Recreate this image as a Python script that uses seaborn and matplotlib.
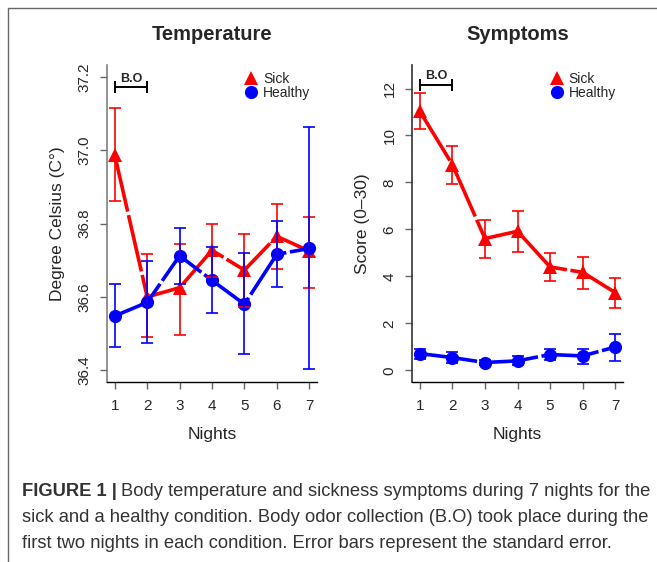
import matplotlib
matplotlib.use("Agg")
import matplotlib.pyplot as plt
import pandas as pd
import seaborn as sns
from matplotlib.lines import Line2D
from matplotlib.transforms import blended_transform_factory

# Data (means and standard-error bar ends)
nights = [1, 2, 3, 4, 5, 6, 7]

temp_sick = [36.986, 36.600, 36.625, 36.727, 36.673, 36.765, 36.725]
temp_sick_lo = [36.861, 36.491, 36.495, 36.654, 36.573, 36.675, 36.625]
temp_sick_hi = [37.114, 36.718, 36.745, 36.800, 36.771, 36.852, 36.818]

temp_healthy = [36.548, 36.585, 36.712, 36.645, 36.580, 36.716, 36.732]
temp_healthy_lo = [36.464, 36.475, 36.636, 36.555, 36.444, 36.627, 36.403]
temp_healthy_hi = [36.635, 36.698, 36.788, 36.736, 36.720, 36.806, 37.062]

symp_sick = [11.03, 8.76, 5.61, 5.92, 4.40, 4.17, 3.31]
symp_sick_lo = [10.27, 7.95, 4.76, 5.04, 3.79, 3.48, 2.67]
symp_sick_hi = [11.79, 9.54, 6.42, 6.77, 5.00, 4.83, 3.93]

symp_healthy = [0.71, 0.54, 0.33, 0.40, 0.67, 0.61, 0.99]
symp_healthy_lo = [0.50, 0.31, 0.21, 0.21, 0.43, 0.28, 0.40]
symp_healthy_hi = [0.92, 0.78, 0.43, 0.60, 0.89, 0.92, 1.56]

temp_ticks = ["36.4", "36.6", "36.8", "37.0", "37.2"]
symp_ticks = ["0", "2", "4", "6", "8", "10", "12"]

groups = ["Sick", "Healthy"]
colors = {"Sick": "#FF0000", "Healthy": "#0000FF"}
markers = {"Sick": "^", "Healthy": "o"}

sns.set_style("ticks")
plt.rcParams["font.family"] = ["Liberation Sans", "DejaVu Sans"]

fig = plt.figure(figsize=(6.57, 5.62), dpi=100)
ax_t = fig.add_axes([0.1629, 0.3203, 0.3196, 0.564])
ax_s = fig.add_axes([0.6271, 0.3203, 0.3212, 0.564])


def draw_panel(ax, series, ylim, yticks, ylabel, title, bo_y, spine_col):
    for g in groups:
        mean, lo, hi = series[g]
        df = pd.DataFrame({"night": nights, "value": mean})
        sns.lineplot(data=df, x="night", y="value", ax=ax, color=colors[g],
                     marker=markers[g], markersize=10 if g == "Sick" else 9.5,
                     markeredgewidth=0, linewidth=2.6, dashes=(16, 1.0),
                     legend=False, zorder=3)
        yerr = [[m - l for m, l in zip(mean, lo)], [h - m for m, h in zip(mean, hi)]]
        ax.errorbar(nights, mean, yerr=yerr, fmt="none", ecolor=colors[g],
                    elinewidth=1.2, capsize=4.5, capthick=1.2, zorder=4)

    ax.set_xlim(0.76, 7.24)
    ax.set_ylim(*ylim)
    ax.set_xticks(nights)
    ax.set_yticks([float(t) for t in yticks])
    ax.set_yticklabels(yticks, rotation=90, va="center")
    ax.tick_params(axis="both", labelsize=11, length=5, width=1, color="#666666", pad=6)
    ax.tick_params(axis="x", pad=7)
    sns.despine(ax=ax)
    ax.spines["left"].set_color(spine_col)
    ax.spines["left"].set_linewidth(1.2)
    ax.spines["bottom"].set_linewidth(1)
    ax.spines["bottom"].set_color("black")
    ax.set_xlabel("Nights", fontsize=12.5, labelpad=10)
    ax.set_ylabel(ylabel, fontsize=12.5, labelpad=9)
    ax.set_title(title, fontsize=14.5, fontweight="bold", pad=18)

    # B.O bracket over nights 1-2
    tr = blended_transform_factory(ax.transData, ax.transAxes)
    ax.plot([1, 2], [bo_y, bo_y], color="black", lw=1.4, transform=tr, clip_on=False)
    ax.plot([1, 2], [bo_y, bo_y], color="black", lw=0, marker="|", ms=8, mew=1.4,
            transform=tr, clip_on=False)
    ax.text(1.5, bo_y + 0.008, "B.O", transform=tr, ha="center", va="bottom",
            fontsize=9, fontweight="bold")

    handles = [Line2D([], [], color=colors[g], marker=markers[g], lw=0,
                      markersize=10 if g == "Sick" else 9.5, markeredgewidth=0)
               for g in groups]
    ax.legend(handles, groups, loc="upper left", bbox_to_anchor=(0.62, 1.0),
              frameon=False, fontsize=10, handlelength=1.0, handletextpad=0.35,
              labelspacing=0.0, borderpad=0)


draw_panel(ax_t,
           {"Sick": (temp_sick, temp_sick_lo, temp_sick_hi),
            "Healthy": (temp_healthy, temp_healthy_lo, temp_healthy_hi)},
           (36.368, 37.232), temp_ticks,
           "Degree Celsius (C°)", "Temperature", 0.93, "#808080")
draw_panel(ax_s,
           {"Sick": (symp_sick, symp_sick_lo, symp_sick_hi),
            "Healthy": (symp_healthy, symp_healthy_lo, symp_healthy_hi)},
           (-0.5, 13), symp_ticks,
           "Score (0\u201330)", "Symptoms", 0.937, "#333333")

# Frame of the figure panel
fig.add_artist(Line2D([8 / 657, 1], [1 - 8 / 562, 1 - 8 / 562], color="#666666", lw=1))
fig.add_artist(Line2D([8 / 657, 8 / 657], [0, 1 - 8 / 562], color="#666666", lw=1))

# Caption
cap_lines = [
    "Body temperature and sickness symptoms during 7 nights for the",
    "sick and a healthy condition. Body odor collection (B.O) took place during the",
    "first two nights in each condition. Error bars represent the standard error.",
]
cap_color = "#333333"
cap_size = 13.2
x0 = 22 / 657
ys = [1 - 492 / 562, 1 - 518 / 562, 1 - 543 / 562]
bold = fig.text(x0, ys[0], "FIGURE 1 |", fontsize=cap_size, fontweight="bold",
                color=cap_color, va="center")
fig.canvas.draw()
bb = bold.get_window_extent()
fig.text(bb.x1 / fig.bbox.width + 0.006, ys[0], cap_lines[0], fontsize=cap_size,
         color=cap_color, va="center")
for y, line in zip(ys[1:], cap_lines[1:]):
    fig.text(x0, y, line, fontsize=cap_size, color=cap_color, va="center")

fig.savefig("out.png", dpi=100)
